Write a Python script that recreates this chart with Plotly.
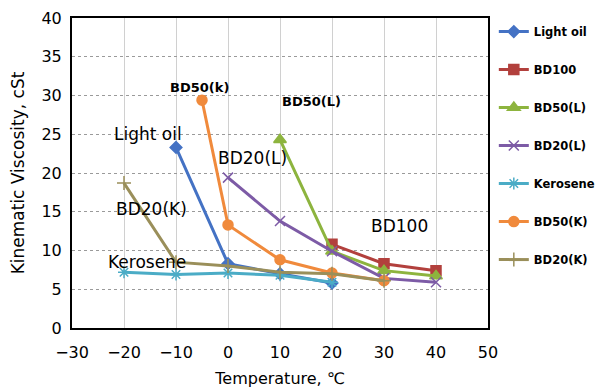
import plotly.graph_objects as go

# Data
light_oil_x = [-10, 0, 10, 20]
light_oil_y = [23.3, 8.3, 7.0, 5.8]
bd100_x = [20, 30, 40]
bd100_y = [10.8, 8.3, 7.4]
bd50l_x = [10, 20, 30, 40]
bd50l_y = [24.3, 9.9, 7.4, 6.7]
bd20l_x = [0, 10, 20, 30, 40]
bd20l_y = [19.4, 13.8, 9.9, 6.4, 5.9]
kerosene_x = [-20, -10, 0, 10, 20]
kerosene_y = [7.2, 6.9, 7.1, 6.8, 5.9]
bd50k_x = [-5, 0, 10, 20, 30]
bd50k_y = [29.4, 13.3, 8.8, 7.1, 6.1]
bd20k_x = [-20, -10, 0, 10, 20, 30]
bd20k_y = [18.7, 8.5, 8.0, 7.2, 7.0, 6.1]

x_ticks = [-30, -20, -10, 0, 10, 20, 30, 40, 50]
x_tick_labels = ["\u221230", "\u221220", "\u221210", "0", "10", "20", "30", "40", "50"]
y_ticks = [0, 5, 10, 15, 20, 25, 30, 35, 40]

series = [
    ("Light oil", light_oil_x, light_oil_y, "#4472C4", "diamond", 9),
    ("BD100", bd100_x, bd100_y, "#B2403D", "square", 10),
    ("BD50(L)", bd50l_x, bd50l_y, "#8DB43E", "triangle-up", 11),
    ("BD20(L)", bd20l_x, bd20l_y, "#7D5BA6", "x-thin-open", 10),
    ("Kerosene", kerosene_x, kerosene_y, "#4BACC6", "asterisk-open", 10),
    ("BD50(K)", bd50k_x, bd50k_y, "#F08A3C", "circle", 10),
    ("BD20(K)", bd20k_x, bd20k_y, "#9A8F5A", "cross-thin-open", 10),
]

fig = go.Figure()
for name, xs, ys, col, sym, sz in series:
    fig.add_trace(go.Scatter(
        x=xs, y=ys, name=name, mode="lines+markers",
        line=dict(color=col, width=3),
        marker=dict(symbol=sym, size=sz, color=col, line=dict(color=col, width=1.5)),
        legendgroup=name,
    ))

font_main = "DejaVu Sans, Arial, sans-serif"

annotations = [
    ("Light oil", -15.4, 25.0, 17, False),
    ("BD50(k)", -5.4, 31.0, 13, True),
    ("BD50(L)", 16.0, 29.2, 13, True),
    ("BD20(L)", 4.7, 21.9, 17, False),
    ("BD20(K)", -14.75, 15.3, 17, False),
    ("Kerosene", -15.6, 8.55, 17, False),
    ("BD100", 32.9, 13.1, 17, False),
]
for text, ax, ay, fs, bold in annotations:
    fig.add_annotation(x=ax, y=ay, text=f"<b>{text}</b>" if bold else text,
                       showarrow=False, font=dict(size=fs, color="black", family=font_main))

fig.add_shape(type="line", xref="paper", yref="paper", x0=1.269, x1=1.269, y0=-0.2, y1=1.06,
              line=dict(color="#c8d0dc", width=1, dash="5px,16px"))

fig.update_layout(
    width=596, height=381,
    margin=dict(l=64, r=116, t=10, b=61, autoexpand=False),
    paper_bgcolor="white", plot_bgcolor="white",
    font=dict(family=font_main, size=16, color="black"),
    showlegend=True,
    legend=dict(x=1.014, y=1.003, xanchor="left", yanchor="top",
                font=dict(size=11.5, family=font_main, color="black", weight="bold"),
                traceorder="grouped", tracegroupgap=19, itemwidth=30,
                maxheight=360, bgcolor="rgba(0,0,0,0)"),
    xaxis=dict(range=[-30, 50], tickvals=x_ticks, ticktext=x_tick_labels,
               showgrid=True, gridcolor="#d0d0d0", gridwidth=1,
               showline=True, linecolor="black", linewidth=2, mirror=True,
               zeroline=False, ticks="outside", ticklen=9, tickcolor="rgba(0,0,0,0)",
               tickfont=dict(size=16), automargin=False,
               title=dict(text="Temperature, \u2103", font=dict(size=16), standoff=12)),
    yaxis=dict(range=[0, 40], tickvals=y_ticks,
               showgrid=True, gridcolor="#9a9a9a", gridwidth=1, griddash="dot",
               showline=True, linecolor="black", linewidth=2, mirror=True,
               zeroline=False, ticks="outside", ticklen=5, tickcolor="rgba(0,0,0,0)",
               tickfont=dict(size=16), automargin=False,
               title=dict(text="Kinematic Viscosity, cSt", font=dict(size=17), standoff=12)),
)

fig.write_html("out.html")
